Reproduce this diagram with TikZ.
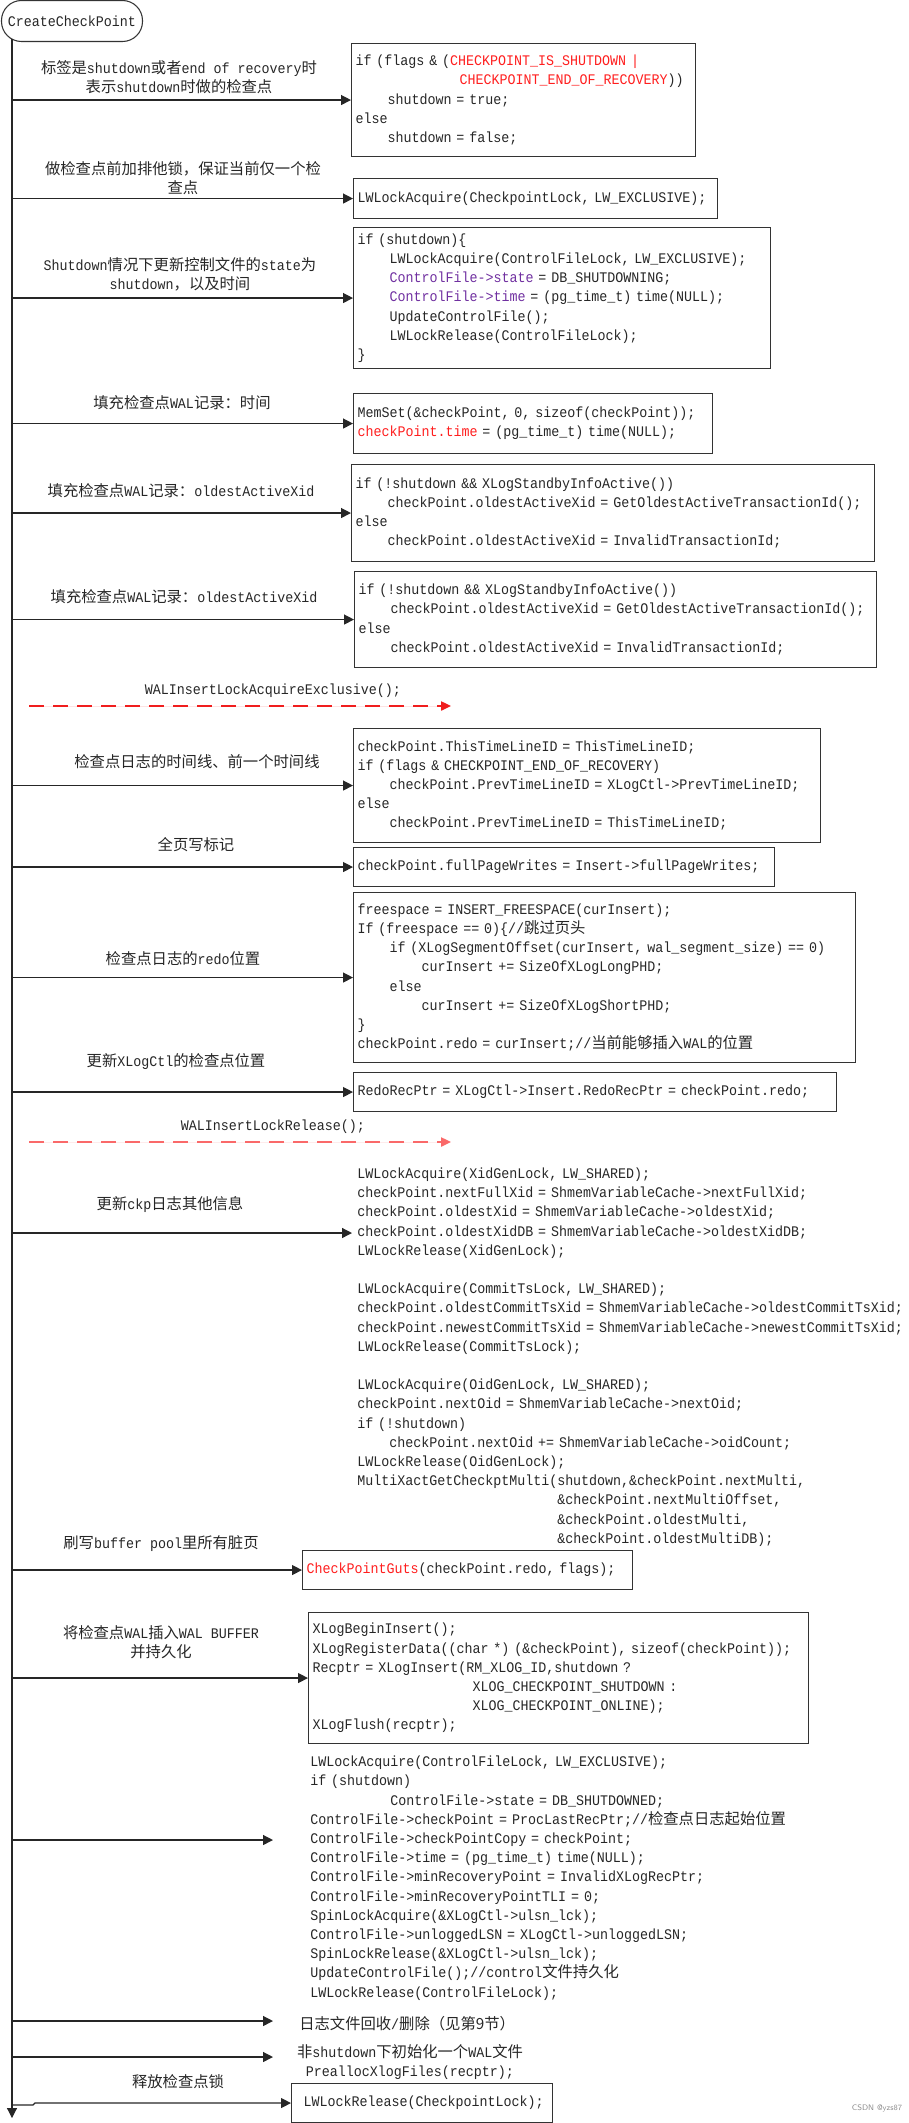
\documentclass[tikz,border=0pt]{standalone}
\usepackage{fontspec}
\usepackage{tikz}
\usetikzlibrary{arrows.meta}

\newfontfamily\codefont[FakeStretch=0.909]{Liberation Mono}
\newfontfamily\cjkfont[Scale=1.045]{Noto Sans CJK SC}
\newcommand\codesize{\fontsize{11}{14.4}\codefont}
\newcommand\zh[1]{{\cjkfont #1}}
\newlength\charw
\setlength\charw{6pt}
\newcommand\ind[1]{\hspace*{#1\charw}}

\definecolor{kwred}{RGB}{255,30,30}
\definecolor{cfpurple}{RGB}{112,48,160}
\definecolor{dashred}{RGB}{240,30,30}
\definecolor{dashpink}{RGB}{250,105,105}
\newcommand\redtxt[1]{\textcolor{kwred}{#1}}
\newcommand\purtxt[1]{\textcolor{cfpurple}{#1}}

\tikzset{
  startbox/.style={draw=black!80, line width=0.8pt, rounded corners=15pt, minimum width=105.75pt, minimum height=30.75pt, inner sep=0pt, text=black!85, font=\codesize},
  codebox/.style={draw=black!80, line width=0.8pt, anchor=north west, align=left, inner xsep=3pt, inner ysep=0pt, text=black!85, font=\codesize},
  codetext/.style={anchor=west, align=left, inner sep=0pt, text width=430pt, text=black!85, font=\codesize},
  lbl/.style={align=center, inner sep=0pt, text=black!85, font=\codesize},
  life/.style={line width=0.8pt, draw=black!85, -{Triangle[length=7.5pt,width=7.5pt]}},
  flow/.style={line width=1pt, draw=black!85, -{Triangle[length=7.5pt,width=7.5pt]}},
  walk/.style={line width=1pt, dash pattern=on 11pt off 7pt, -{Triangle[length=7.5pt,width=7pt]}},
}

\begin{document}
\begin{tikzpicture}[x=0.75pt,y=0.75pt,yscale=-1,xscale=1]
\useasboundingbox (0,0) rectangle (909,2123);

% start node and life line
\node[startbox] (start) at (72,21) {CreateCheckPoint};
\coordinate (top) at (12,39);
\coordinate (bot) at (12,2118);
\draw[life] (top) -- (bot);

% shutdown flag
\node[lbl] (l1) at (179,77.5) {\zh{标签是}shutdown\zh{或者}end of recovery\zh{时}\\\zh{表示}shutdown\zh{时做的检查点}};
\node[codebox, text width=252pt, minimum height=84.75pt] (b1) at (351,43) {if (flags \& (\redtxt{CHECKPOINT\_IS\_SHUTDOWN |}\\\ind{13}\redtxt{CHECKPOINT\_END\_OF\_RECOVERY}))\\\ind{4}shutdown = true;\\else\\\ind{4}shutdown = false;};
\draw[flow] (b1.west -| top) -- (b1.west);

% checkpoint lock
\node[lbl] (l2) at (183,178) {\zh{做检查点前加排他锁，保证当前仅一个检}\\\zh{查点}};
\node[codebox, text width=267pt, minimum height=30pt] (b2) at (353,178) {LWLockAcquire(CheckpointLock, LW\_EXCLUSIVE);};
\draw[flow] (b2.west -| top) -- (b2.west);

% control file on shutdown
\node[lbl] (l3) at (180,274.5) {Shutdown\zh{情况下更新控制文件的}state\zh{为}\\shutdown\zh{，以及时间}};
\node[codebox, text width=306.75pt, minimum height=105.75pt] (b3) at (353,227) {if (shutdown)\{\\\ind{4}LWLockAcquire(ControlFileLock, LW\_EXCLUSIVE);\\\ind{4}\purtxt{ControlFile->state} = DB\_SHUTDOWNING;\\\ind{4}\purtxt{ControlFile->time} = (pg\_time\_t) time(NULL);\\\ind{4}UpdateControlFile();\\\ind{4}LWLockRelease(ControlFileLock);\\\}};
\draw[flow] (b3.west -| top) -- (b3.west);

% record: time
\node[lbl] (l4) at (182,403) {\zh{填充检查点}WAL\zh{记录：时间}};
\node[codebox, text width=263.25pt, minimum height=45pt] (b4) at (353,393) {MemSet(\&checkPoint, 0, sizeof(checkPoint));\\\redtxt{checkPoint.time} = (pg\_time\_t) time(NULL);};
\draw[flow] (b4.west -| top) -- (b4.west);

% record: oldestActiveXid
\node[lbl] (l5) at (181,491) {\zh{填充检查点}WAL\zh{记录：}oldestActiveXid};
\node[codebox, text width=386.25pt, minimum height=72.75pt] (b5) at (351,464) {if (!shutdown \&\& XLogStandbyInfoActive())\\\ind{4}checkPoint.oldestActiveXid = GetOldestActiveTransactionId();\\else\\\ind{4}checkPoint.oldestActiveXid = InvalidTransactionId;};
\draw[flow] (b5.west -| top) -- (b5.west);

\node[lbl] (l6) at (184,597) {\zh{填充检查点}WAL\zh{记录：}oldestActiveXid};
\node[codebox, text width=385.5pt, minimum height=72pt] (b6) at (354,571) {if (!shutdown \&\& XLogStandbyInfoActive())\\\ind{4}checkPoint.oldestActiveXid = GetOldestActiveTransactionId();\\else\\\ind{4}checkPoint.oldestActiveXid = InvalidTransactionId;};
\draw[flow] (b6.west -| top) -- (b6.west);

% insert lock acquire
\node[lbl] (w1) at (273,691) {WALInsertLockAcquireExclusive();};
\coordinate (w1s) at (29,706);
\coordinate (w1e) at (451,706);
\draw[walk, draw=dashred, fill=dashred] (w1s) -- (w1e);

% timelines
\node[lbl] (l7) at (197,762) {\zh{检查点日志的时间线、前一个时间线}};
\node[codebox, text width=344.25pt, minimum height=85.5pt] (b7) at (353,728) {checkPoint.ThisTimeLineID = ThisTimeLineID;\\if (flags \& CHECKPOINT\_END\_OF\_RECOVERY)\\\ind{4}checkPoint.PrevTimeLineID = XLogCtl->PrevTimeLineID;\\else\\\ind{4}checkPoint.PrevTimeLineID = ThisTimeLineID;};
\draw[flow] (b7.west -| top) -- (b7.west);

% full page writes
\node[lbl] (l8) at (196,845) {\zh{全页写标记}};
\node[codebox, text width=309.75pt, minimum height=29.25pt] (b8) at (353,847) {checkPoint.fullPageWrites = Insert->fullPageWrites;};
\draw[flow] (b8.west -| top) -- (b8.west);

% redo position
\node[lbl] (l9) at (183,959) {\zh{检查点日志的}redo\zh{位置}};
\node[codebox, text width=370.5pt, minimum height=127.5pt] (b9) at (353,892) {freespace = INSERT\_FREESPACE(curInsert);\\If (freespace == 0)\{//\zh{跳过页头}\\\ind{4}if (XLogSegmentOffset(curInsert, wal\_segment\_size) == 0)\\\ind{8}curInsert += SizeOfXLogLongPHD;\\\ind{4}else\\\ind{8}curInsert += SizeOfXLogShortPHD;\\\}\\checkPoint.redo = curInsert;//\zh{当前能够插入}WAL\zh{的位置}};
\draw[flow] (b9.west -| top) -- (b9.west);

% XLogCtl
\node[lbl] (l10) at (176,1062) {\zh{更新}XLogCtl\zh{的检查点位置}};
\node[codebox, text width=356.25pt, minimum height=29.25pt] (b10) at (353,1072) {RedoRecPtr = XLogCtl->Insert.RedoRecPtr = checkPoint.redo;};
\draw[flow] (b10.west -| top) -- (b10.west);

% insert lock release
\node[lbl] (w2) at (273,1127) {WALInsertLockRelease();};
\coordinate (w2s) at (29,1142);
\coordinate (w2e) at (451,1142);
\draw[walk, draw=dashpink, fill=dashpink] (w2s) -- (w2e);

% other ckp info
\node[lbl] (l11) at (170,1204) {\zh{更新}ckp\zh{日志其他信息}};
\node[codetext] (c11) at (357,1357) {LWLockAcquire(XidGenLock, LW\_SHARED);\\checkPoint.nextFullXid = ShmemVariableCache->nextFullXid;\\checkPoint.oldestXid = ShmemVariableCache->oldestXid;\\checkPoint.oldestXidDB = ShmemVariableCache->oldestXidDB;\\LWLockRelease(XidGenLock);\\[14.4pt]LWLockAcquire(CommitTsLock, LW\_SHARED);\\checkPoint.oldestCommitTsXid = ShmemVariableCache->oldestCommitTsXid;\\checkPoint.newestCommitTsXid = ShmemVariableCache->newestCommitTsXid;\\LWLockRelease(CommitTsLock);\\[14.4pt]LWLockAcquire(OidGenLock, LW\_SHARED);\\checkPoint.nextOid = ShmemVariableCache->nextOid;\\if (!shutdown)\\\ind{4}checkPoint.nextOid += ShmemVariableCache->oidCount;\\LWLockRelease(OidGenLock);\\MultiXactGetCheckptMulti(shutdown,\&checkPoint.nextMulti,\\\ind{25}\&checkPoint.nextMultiOffset,\\\ind{25}\&checkPoint.oldestMulti,\\\ind{25}\&checkPoint.oldestMultiDB);};
\coordinate (e11) at (352,1233);
\draw[flow] (e11 -| top) -- (e11);

% buffer pool
\node[lbl] (l12) at (161,1544) {\zh{刷写}buffer pool\zh{里所有脏页}};
\node[codebox, text width=241.5pt, minimum height=29.25pt] (b12) at (302,1550) {\redtxt{CheckPointGuts}(checkPoint.redo, flags);};
\draw[flow] (b12.west -| top) -- (b12.west);

% WAL insert
\node[lbl] (l13) at (161,1642.5) {\zh{将检查点}WAL\zh{插入}WAL BUFFER\\\zh{并持久化}};
\node[codebox, text width=369pt, minimum height=98.25pt] (b13) at (308,1612) {XLogBeginInsert();\\XLogRegisterData((char *) (\&checkPoint), sizeof(checkPoint));\\Recptr = XLogInsert(RM\_XLOG\_ID,shutdown ?\\\ind{20}XLOG\_CHECKPOINT\_SHUTDOWN :\\\ind{20}XLOG\_CHECKPOINT\_ONLINE);\\XLogFlush(recptr);};
\draw[flow] (b13.west -| top) -- (b13.west);

% control file update
\node[codetext] (c14) at (310,1878) {LWLockAcquire(ControlFileLock, LW\_EXCLUSIVE);\\if (shutdown)\\\ind{10}ControlFile->state = DB\_SHUTDOWNED;\\ControlFile->checkPoint = ProcLastRecPtr;//\zh{检查点日志起始位置}\\ControlFile->checkPointCopy = checkPoint;\\ControlFile->time = (pg\_time\_t) time(NULL);\\ControlFile->minRecoveryPoint = InvalidXLogRecPtr;\\ControlFile->minRecoveryPointTLI = 0;\\SpinLockAcquire(\&XLogCtl->ulsn\_lck);\\ControlFile->unloggedLSN = XLogCtl->unloggedLSN;\\SpinLockRelease(\&XLogCtl->ulsn\_lck);\\UpdateControlFile();//control\zh{文件持久化}\\LWLockRelease(ControlFileLock);};
\coordinate (e14) at (273,1840);
\draw[flow] (e14 -| top) -- (e14);

% recycle and prealloc
\node[lbl, anchor=west] (t15) at (299,2024) {\zh{日志文件回收}/\zh{删除（见第9节）}};
\coordinate (e15) at (273,2021);
\draw[flow] (e15 -| top) -- (e15);
\node[lbl] (t16) at (410,2062) {\zh{非}shutdown\zh{下初始化一个}WAL\zh{文件}\\PreallocXlogFiles(recptr);};
\coordinate (e16) at (273,2057);
\draw[flow] (e16 -| top) -- (e16);

% release lock
\node[lbl] (l17) at (178,2082) {\zh{释放检查点锁}};
\node[codebox, text width=189.75pt, minimum height=29.25pt] (b17) at (291,2083) {\ind{1}LWLockRelease(CheckpointLock);};
\coordinate (k17) at (33,2105);
\draw[flow] (k17 -| top) -- (k17) -- ++(2,-2) -- (b17.west);

\node[inner sep=0pt, text=black!45, font=\sffamily\fontsize{6}{7}\selectfont] (mark) at (877,2108) {CSDN @yzs87};
\end{tikzpicture}
\end{document}
